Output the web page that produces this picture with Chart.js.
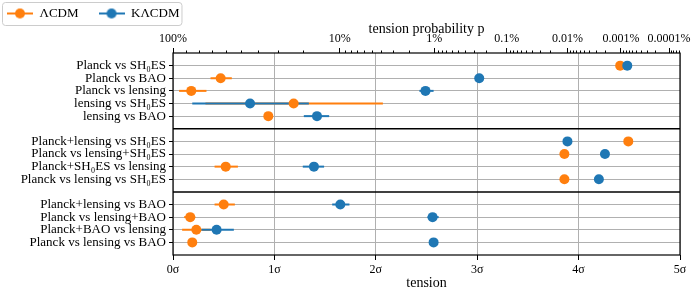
<!DOCTYPE html>
<html>
<head>
<meta charset="utf-8">
<script src="https://cdn.jsdelivr.net/npm/chart.js"></script>
<style>
  html, body { margin: 0; padding: 0; background: #fff; }
  #wrap { width: 700px; height: 300px; }
</style>
</head>
<body>
<div id="wrap"><canvas id="c"></canvas></div>
<script>
// lignes du graphe, de haut en bas, en trois groupes
const groupSizes = [5, 4, 4];
const categories = [
  'Planck vs SH₀ES', 'Planck vs BAO', 'Planck vs lensing', 'lensing vs SH₀ES', 'lensing vs BAO',
  'Planck+lensing vs SH₀ES', 'Planck vs lensing+SH₀ES', 'Planck+SH₀ES vs lensing', 'Planck vs lensing vs SH₀ES',
  'Planck+lensing vs BAO', 'Planck vs lensing+BAO', 'Planck+BAO vs lensing', 'Planck vs lensing vs BAO'
];

// tension en sigma (valeur, borne basse, borne haute)
const lcdmSigma  = [4.41, 0.47, 0.18, 1.19, 0.94,  4.49, 3.86, 0.52, 3.86,  0.50, 0.17, 0.23, 0.19];
const lcdmLow    = [null, 0.37, 0.06, 0.32, 0.91,  null, null, 0.41, null,  0.41, 0.11, 0.09, 0.16];
const lcdmHigh   = [null, 0.58, 0.33, 2.07, 0.97,  null, null, 0.64, null,  0.61, 0.22, 0.37, 0.22];
const klcdmSigma = [4.48, 3.02, 2.49, 0.76, 1.42,  3.89, 4.26, 1.39, 4.20,  1.65, 2.56, 0.43, 2.57];
const klcdmLow   = [null, 2.99, 2.43, 0.19, 1.29,  null, null, 1.28, null,  1.57, 2.51, 0.28, 2.53];
const klcdmHigh  = [null, 3.05, 2.57, 1.34, 1.54,  null, null, 1.49, null,  1.74, 2.62, 0.60, 2.61];

const sigmaTicks = [0, 1, 2, 3, 4, 5];
const probTicks  = [1, 0.1, 0.01, 0.001, 1e-4, 1e-5, 1e-6];
const probLabels = ['100%', '10%', '1%', '0.1%', '0.01%', '0.001%', '0.0001%'];

const ORANGE = '#ff7f0e';
const BLUE = '#1f77b4';
const FONT = "'Liberation Serif', 'DejaVu Serif', serif";

// positions des lignes + séparateurs
const rowY = [];
const sepY = [];
let pos = 1;
groupSizes.forEach((n, g) => {
  for (let i = 0; i < n; i++) rowY.push(pos++);
  if (g < groupSizes.length - 1) sepY.push(pos++);
});
const yMax = pos;

// inverse de la loi normale (Acklam) -> sigma pour une proba bilatérale
function normInv(p) {
  const a = [-3.969683028665376e+01, 2.209460984245205e+02, -2.759285104469687e+02, 1.383577518672690e+02, -3.066479806614716e+01, 2.506628277459239e+00];
  const b = [-5.447609879822406e+01, 1.615858368580409e+02, -1.556989798598866e+02, 6.680131188771972e+01, -1.328068155288572e+01];
  const c = [-7.784894002430293e-03, -3.223964580411365e-01, -2.400758277161838e+00, -2.549732539343734e+00, 4.374664141464968e+00, 2.938163982698783e+00];
  const d = [7.784695709041462e-03, 3.224671290700398e-01, 2.445134137142996e+00, 3.754408661907416e+00];
  const pl = 0.02425;
  if (p < pl) {
    const q = Math.sqrt(-2 * Math.log(p));
    return (((((c[0]*q+c[1])*q+c[2])*q+c[3])*q+c[4])*q+c[5]) / ((((d[0]*q+d[1])*q+d[2])*q+d[3])*q+1);
  }
  if (p <= 1 - pl) {
    const q = p - 0.5, r = q * q;
    return (((((a[0]*r+a[1])*r+a[2])*r+a[3])*r+a[4])*r+a[5])*q / (((((b[0]*r+b[1])*r+b[2])*r+b[3])*r+b[4])*r+1);
  }
  const q = Math.sqrt(-2 * Math.log(1 - p));
  return -(((((c[0]*q+c[1])*q+c[2])*q+c[3])*q+c[4])*q+c[5]) / ((((d[0]*q+d[1])*q+d[2])*q+d[3])*q+1);
}
const pToSigma = p => p >= 1 ? 0 : -normInv(p / 2);

const probSigma = probTicks.map(pToSigma);
const minorSigma = [];
probTicks.forEach(dec => {
  for (let k = 2; k <= 9; k++) {
    const s = pToSigma(k * dec / 10);
    if (s <= 5) minorSigma.push(s);
  }
});

// datasets
const datasets = [];
function addSeries(vals, lo, hi, color, markerOrder, barOrder) {
  vals.forEach((v, i) => {
    if (lo[i] == null) return;
    datasets.push({
      type: 'line',
      data: [{ x: lo[i], y: rowY[i] }, { x: hi[i], y: rowY[i] }],
      borderColor: color,
      borderWidth: 2,
      pointRadius: 0,
      order: barOrder
    });
  });
  datasets.push({
    type: 'scatter',
    data: vals.map((v, i) => ({ x: v, y: rowY[i] })),
    backgroundColor: color,
    borderWidth: 0,
    pointRadius: 5,
    order: markerOrder
  });
}
addSeries(lcdmSigma, lcdmLow, lcdmHigh, ORANGE, 1, 3);
addSeries(klcdmSigma, klcdmLow, klcdmHigh, BLUE, 0, 2);
sepY.forEach(y => {
  datasets.push({
    type: 'line',
    data: [{ x: 0, y: y }, { x: 5, y: y }],
    borderColor: '#000',
    borderWidth: 1.5,
    pointRadius: 0,
    order: 4
  });
});

function legendIcon(color) {
  const cv = document.createElement('canvas');
  cv.width = 26; cv.height = 12;
  const g = cv.getContext('2d');
  g.strokeStyle = color; g.lineWidth = 2;
  g.beginPath(); g.moveTo(0, 6); g.lineTo(26, 6); g.stroke();
  g.fillStyle = color;
  g.beginPath(); g.arc(13, 6, 5, 0, Math.PI * 2); g.fill();
  return cv;
}

// cadre, ticks mineurs du haut, cadre de légende
const extras = {
  id: 'extras',
  afterDraw(chart) {
    const ctx = chart.ctx;
    const a = chart.chartArea;
    const top = chart.scales.xTop;
    ctx.save();
    ctx.strokeStyle = '#000';
    ctx.lineWidth = 1.2;
    ctx.strokeRect(a.left, a.top, a.right - a.left, a.bottom - a.top);
    ctx.lineWidth = 1;
    ctx.beginPath();
    minorSigma.forEach(s => {
      const x = Math.round(top.getPixelForValue(s)) + 0.5;
      ctx.moveTo(x, a.top);
      ctx.lineTo(x, a.top - 2.5);
    });
    ctx.stroke();
    const hb = chart.legend.legendHitBoxes;
    if (hb && hb.length) {
      const l = hb[0].left - 5, t = hb[0].top - 5;
      const last = hb[hb.length - 1];
      const w = last.left + last.width + 2 - l, h = last.height + 10;
      ctx.strokeStyle = '#cccccc';
      ctx.beginPath();
      ctx.roundRect(l + 0.5, t + 0.5, w, h, 3);
      ctx.stroke();
    }
    ctx.restore();
  }
};

new Chart(document.getElementById('c'), {
  data: { datasets },
  options: {
    responsive: true,
    maintainAspectRatio: false,
    animation: false,
    events: [],
    layout: { padding: { left: 0, right: 20, top: 0, bottom: 0 } },
    plugins: {
      tooltip: { enabled: false },
      legend: {
        display: true,
        position: 'top',
        align: 'start',
        labels: {
          usePointStyle: true,
          pointStyleWidth: 26,
          boxHeight: 12,
          padding: 7,
          color: '#000',
          font: { family: FONT, size: 13 },
          generateLabels: () => [
            { text: 'ΛCDM\u2003', pointStyle: legendIcon(ORANGE), fillStyle: ORANGE, strokeStyle: 'transparent', lineWidth: 0, hidden: false, fontColor: '#000' },
            { text: 'KΛCDM', pointStyle: legendIcon(BLUE), fillStyle: BLUE, strokeStyle: 'transparent', lineWidth: 0, hidden: false, fontColor: '#000' }
          ]
        }
      }
    },
    scales: {
      x: {
        type: 'linear',
        position: 'bottom',
        min: 0, max: 5,
        afterBuildTicks: s => { s.ticks = sigmaTicks.map(v => ({ value: v })); },
        afterFit: s => { s.height = 45; },
        ticks: {
          color: '#000',
          padding: 3,
          font: { family: FONT, size: 12 },
          callback: v => v + 'σ'
        },
        grid: { color: '#b0b0b0', lineWidth: 1, tickColor: '#000', tickLength: 5 },
        border: { display: false },
        title: {
          display: true, text: 'tension', color: '#000',
          font: { family: FONT, size: 14 },
          padding: { top: 0, bottom: 8 }
        }
      },
      xTop: {
        type: 'linear',
        position: 'top',
        min: 0, max: 5,
        afterBuildTicks: s => { s.ticks = probSigma.map(v => ({ value: v })); },
        afterFit: s => { s.height = 53 - (s.chart.legend ? s.chart.legend.height : 23); },
        ticks: {
          color: '#000',
          padding: 2,
          autoSkip: false,
          maxRotation: 0,
          font: { family: FONT, size: 12 },
          callback: (v, i) => probLabels[i]
        },
        grid: { drawOnChartArea: false, tickColor: '#000', tickLength: 5 },
        border: { display: false },
        title: {
          display: true, text: 'tension probability p', color: '#000',
          font: { family: FONT, size: 14 },
          padding: { top: -9, bottom: 0 }
        }
      },
      y: {
        type: 'linear',
        position: 'left',
        reverse: true,
        min: 0, max: yMax,
        afterBuildTicks: s => { s.ticks = rowY.map(v => ({ value: v })); },
        afterFit: s => { s.width = 173; },
        ticks: {
          color: '#000',
          padding: 3,
          autoSkip: false,
          font: { family: FONT, size: 13 },
          callback: (v, i) => categories[i]
        },
        grid: { color: '#b0b0b0', lineWidth: 1, tickColor: '#000', tickLength: 4 },
        border: { display: false }
      }
    }
  },
  plugins: [extras]
});
</script>
</body>
</html>
